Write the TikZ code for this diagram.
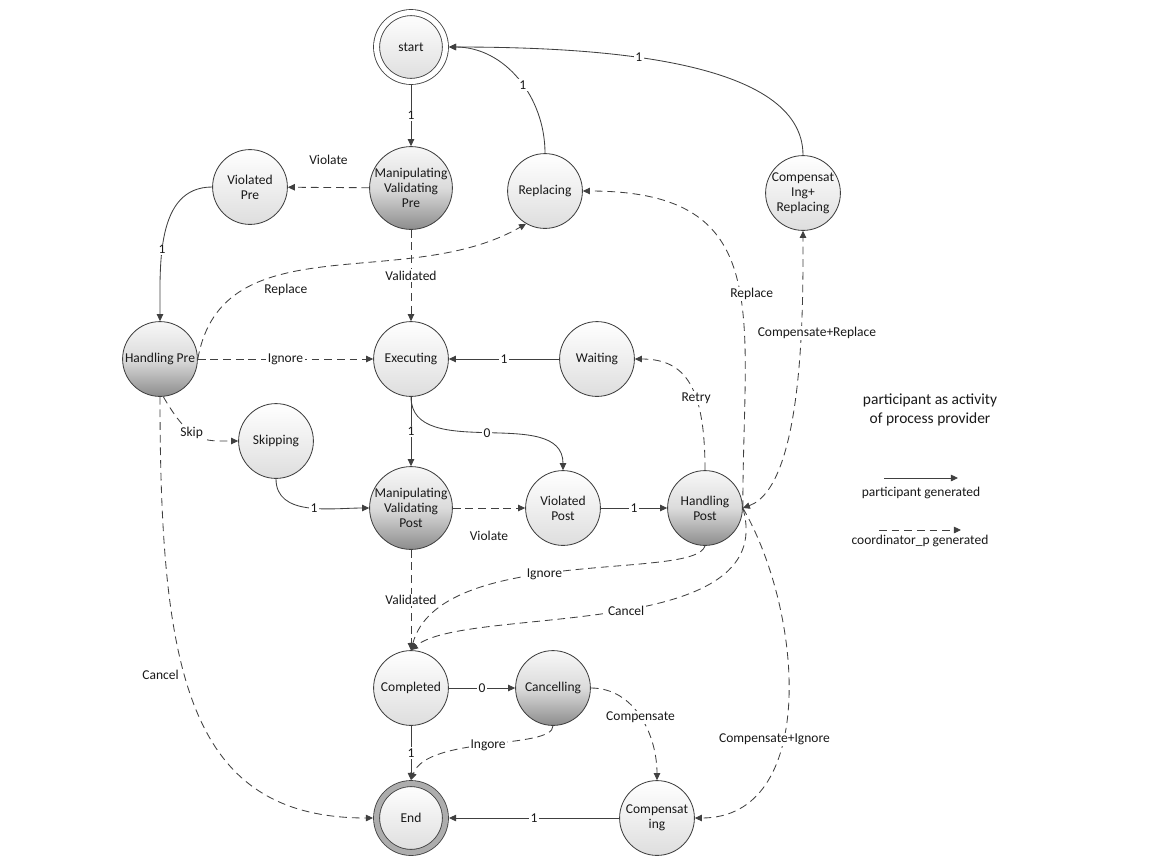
\documentclass[tikz,border=0pt]{standalone}
\usepackage{fontspec}
\setmainfont{Carlito}
\usetikzlibrary{arrows.meta}

\begin{document}
\begin{tikzpicture}[
    x=0.025cm, y=-0.025cm,
    >={Triangle[length=5pt,width=4.6pt]},
    every node/.style={font=\fontsize{9.6}{10.7}\selectfont,text=black!90},
    st/.style={circle,draw=black!75,line width=0.6pt,minimum size=1.87cm,inner sep=0pt,align=center,top color=white,bottom color=black!13},
    hot/.style={st,top color=black!3,bottom color=black!45,middle color=black!14},
    init/.style={st,minimum size=1.72cm,double=white,double distance=0.13cm,outer sep=0.09cm},
    ring/.style={init,double=black!32},
    gen/.style={draw=black!75,line width=0.6pt},
    crd/.style={gen,dash pattern=on 5.5pt off 3.5pt},
    lbl/.style={fill=white,inner sep=1pt},
    ]
    \useasboundingbox (0,0) rectangle (1171,857);

    \node[init] (start) at (411,47) {start};
    \node[hot] (mvpre) at (411,188) {Manipulating\\Validating\\Pre};
    \node[st] (vpre) at (250,187) {Violated\\Pre};
    \node[st] (repl) at (545,191) {Replacing};
    \node[st] (cr) at (803,193) {Compensat\\Ing+\\Replacing};
    \node[hot] (hpre) at (160,359) {Handling Pre};
    \node[st] (exec) at (411,359) {Executing};
    \node[st] (wait) at (597,359) {Waiting};
    \node[st] (skip) at (276,441) {Skipping};
    \node[hot] (mvpost) at (411,508) {Manipulating\\Validating\\Post};
    \node[st] (vpost) at (563,508) {Violated\\Post};
    \node[hot] (hpost) at (705,508) {Handling\\Post};
    \node[st] (compl) at (411,688) {Completed};
    \node[hot] (canc) at (553,688) {Cancelling};
    \node[ring] (end) at (411,818) {End};
    \node[st] (comp) at (657,818) {Compensat\\ing};

    % participant
    \draw[gen,->] (start) -- node[lbl]{1} (mvpre);
    \draw[gen,->] (vpre.west) to[out=180,in=90] node[lbl,pos=.6]{1} (hpre.north);
    \draw[gen,->] (wait) -- node[lbl]{1} (exec);
    \draw[gen,->] (skip.south) to[out=-90,in=180] node[lbl,pos=.55]{1} (mvpost.west);
    \draw[gen,->] (exec) -- node[lbl]{1} (mvpost);
    \draw[gen,->] (exec.south) to[out=-90,in=90] node[lbl]{0} (vpost.north);
    \draw[gen,->] (vpost) -- node[lbl]{1} (hpost);
    \draw[gen,->] (compl) -- node[lbl]{0} (canc);
    \draw[gen,->] (compl) -- node[lbl]{1} (end);
    \draw[gen,->] (comp) -- node[lbl]{1} (end);
    \draw[gen,->] (repl.north) to[out=90,in=0] node[lbl,pos=.45]{1} (start.east);
    \draw[gen,->] (cr.north) to[out=90,in=0,out looseness=.66,in looseness=1.04] node[lbl,pos=.6]{1} (start.east);

    % coordinator_p
    \draw[crd,->] (mvpre) -- node[above=12.5pt]{Violate} (vpre);
    \draw[crd,->] (mvpre) -- node[lbl]{Validated} (exec);
    \draw[crd,->] (hpre.east) to[out=80,in=-150] node[pos=.25,right=12pt]{Replace} (repl.-120);
    \draw[crd,->] (hpre) -- node[lbl]{Ignore} (exec);
    \draw[crd,->] (hpre.-85) to[out=-60,in=180,out looseness=1.6] node[lbl,pos=.4]{Skip} (skip.west);
    \draw[crd,->] (hpre.south) to[out=-90,in=180,out looseness=1.5] node[lbl,pos=.42,xshift=-.6cm]{Cancel} (end.west);
    \draw[crd,->] (mvpost) -- node[below=12.5pt]{Violate} (vpost);
    \draw[crd,->] (mvpost) -- node[lbl]{Validated} (compl);
    \draw[crd,->] (hpost.north) to[out=90,in=0,out looseness=1.6] node[lbl,pos=.38]{Retry} (wait.east);
    \draw[crd,->] (hpost.east) to[out=90,in=0,looseness=1.4] node[lbl,pos=.45,xshift=.3cm]{Replace} (repl.east);
    \draw[crd,<->] (hpost.east) to[out=20,in=-90,looseness=.6] node[lbl,pos=.65,xshift=.4cm]{Compensate+Replace} (cr.south);
    \draw[crd,->] (hpost.south) to[out=-105,in=75,out looseness=.3,in looseness=.9] node[lbl,pos=.55]{Ignore} (compl.north);
    \draw[crd,->] (hpost.east) to[out=-74,in=40,in looseness=.5] node[lbl,pos=.47]{Cancel} (compl.north);
    \draw[crd,->] (hpost.east) to[out=-60,in=0] node[lbl,pos=.6,xshift=-.2cm]{Compensate+Ignore} (comp.east);
    \draw[crd,->] (canc.south) to[out=-90,in=70,out looseness=.4,in looseness=.8] node[lbl,pos=.5]{Ingore} (end.north);
    \draw[crd,->] (canc.east) to[out=0,in=90] node[lbl,pos=.5]{Compensate} (comp.north);

    % key
    \node[font=\fontsize{11}{13.5}\selectfont,align=center] (key) at (930,410) {participant as activity\\of process provider};
    \coordinate (g1) at (884,478);
    \coordinate (g2) at (958,478);
    \coordinate (c1) at (879,530);
    \coordinate (c2) at (961,530);
    \draw[gen,->] (g1) -- node[below=2.5pt]{participant generated} (g2);
    \draw[crd,->] (c1) -- node[below=0pt]{coordinator\_p generated} (c2);
\end{tikzpicture}
\end{document}
